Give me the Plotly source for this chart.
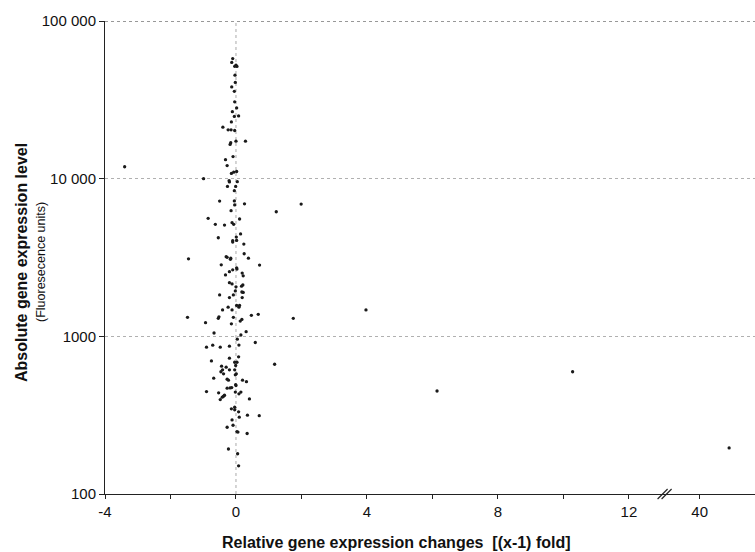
import plotly.graph_objects as go

# ---- data: relative change [(x-1) fold] and absolute expression (fluorescence units)
rel_change = [
    -0.10, -0.13, 0.00, 0.03, -0.04, -0.03, -0.02, -0.13, -0.05, -0.04,
    0.02, -0.11, -0.05, 0.08, -0.14, -0.40, -0.24, -0.15, -0.04,
    -0.16, -0.18, 0.00, 0.29, -0.09, -0.32, -0.27, -0.07, 0.02, -0.14,
    -0.99, -0.21, -0.20, 0.04, -0.01, -0.26, -0.05, -0.50, -0.05, 0.26,
    -0.04, -0.15, -0.85, 0.11,
    -0.63, -0.35, -0.12, -0.07, 0.14, -0.54, 0.01, -0.10, -0.10, 0.02,
    0.24, -1.45, -0.30, -0.27, -0.16, -0.17, 0.25, 0.38, 0.72, -0.45,
    0.02, 0.03, -0.10, -0.20, 0.19, 0.22, -0.32, -0.20, -0.12, 0.21,
    0.17, 0.00, -0.02, 0.22, 0.18, -0.50, -0.08, 0.19, -0.20,
    -0.24, 0.02, 0.11, 0.09, -0.41, -0.12, -1.48, -0.54, -0.52, -0.08,
    0.47, 0.68, -0.93, -0.14, 0.13, 0.18, -0.67, 0.31, 0.15, 0.04,
    0.59, -0.71, -0.90, -0.48, -0.20, 0.09, 0.08, -0.20, -0.75, -0.04,
    0.03, -0.44, -0.30, -0.41, -0.20, -0.01, -0.04, 1.18, -0.46, -0.38,
    -0.02, 0.01, -0.68, -0.27, -0.23, 0.20, 0.32, -0.01, -0.13, -0.18,
    -0.27, 0.00, -0.90, -0.53, -0.38, -0.35, -0.42, -0.48, -0.02, 0.09,
    0.15, 0.41, -0.04, -0.14, -0.04, 0.08, 0.10, 0.35, 0.71, -0.12,
    -0.09, -0.27, 0.03, 0.06, 0.34, -0.23, 0.05, 0.08,
    -3.40, 1.23, 1.99, 1.75, 3.97, 6.14, 10.28, 40.9,
]
abs_level = [
    57800, 54600, 52400, 51500, 51600, 45300, 40800, 38200, 35800, 30700,
    28100, 26600, 24800, 25000, 22900, 21200, 20400, 20400, 20200,
    16900, 16500, 17300, 17300, 13800, 13200, 12100, 11000, 11100, 10800,
    10000, 9710, 9530, 9570, 8930, 8930, 8390, 7210, 7230, 6930,
    6810, 6270, 5600, 5550,
    5130, 5080, 5260, 5130, 4460, 4220, 4260, 4040, 3960, 4060,
    3850, 3100, 3200, 3170, 3130, 3080, 3340, 3130, 2830, 2840,
    2720, 2670, 2640, 2570, 2520, 2420, 2450, 2190, 2150, 2120,
    2080, 2060, 1940, 1900, 1910, 1830, 1830, 1760, 1760,
    1530, 1570, 1570, 1530, 1470, 1470, 1320, 1300, 1330, 1320,
    1360, 1380, 1220, 1200, 1250, 1280, 1050, 1070, 1020, 960,
    914, 879, 854, 854, 866, 880, 741, 727, 698, 685,
    685, 647, 637, 613, 613, 653, 613, 665, 596, 578,
    570, 578, 543, 535, 527, 527, 516, 494, 473, 471,
    469, 487, 446, 438, 417, 423, 411, 397, 443, 432,
    443, 401, 355, 347, 342, 332, 307, 316, 314, 295,
    273, 265, 249, 247, 242, 193, 180, 151,
    11900, 6170, 6900, 1300, 1470, 450, 596, 196,
]

x_tick_vals = [-4, -2, 0, 2, 4, 6, 8, 10, 12, 40]
x_tick_text = ["-4", "", "0", "", "4", "", "8", "", "12", "40"]
y_tick_vals = [100, 1000, 10000, 100000]
y_tick_text = ["100", "1000", "10 000", "100 000"]

# broken x axis: values >= 40 are shifted to sit just after the break
BREAK_POS = 13.15
POS_OF_40 = 14.16


def to_axis(v):
    return v if v < 20 else v - 40 + POS_OF_40


xs = [to_axis(v) for v in rel_change]
tickpos = [to_axis(v) for v in x_tick_vals]

FONT = "Liberation Sans, Arial, sans-serif"

fig = go.Figure()
fig.add_trace(go.Scatter(
    x=xs, y=abs_level, mode="markers",
    marker=dict(symbol="circle", size=3.3, color="#1a1a1a"),
    hoverinfo="skip", showlegend=False,
))

# dotted reference line at zero change
fig.add_vline(x=0, line=dict(color="#aaaaaa", width=1, dash="dot"), layer="below")
# top dotted border
fig.add_hline(y=100000, line=dict(color="#333333", width=1, dash="dot"))

# axis break marks
for off in (-4, 0):
    fig.add_shape(type="line", xref="x", yref="paper",
                  xsizemode="pixel", ysizemode="pixel",
                  xanchor=BREAK_POS, yanchor=0,
                  x0=off - 5, x1=off + 5, y0=-5, y1=5,
                  line=dict(color="#222222", width=1.2))

fig.update_layout(
    width=755, height=552,
    margin=dict(l=105, r=0, t=21, b=58),
    paper_bgcolor="white", plot_bgcolor="white",
    font=dict(family=FONT, size=15, color="#111111"),
    xaxis=dict(
        range=[-4, 15.85], tickmode="array", tickvals=tickpos, ticktext=x_tick_text,
        showgrid=False, zeroline=False, showline=True, linecolor="#222222", linewidth=1,
        ticks="outside", ticklen=4, tickcolor="#222222",
        tickfont=dict(size=15, family=FONT),
    ),
    yaxis=dict(
        type="log", range=[2, 5], tickmode="array", tickvals=y_tick_vals, ticktext=y_tick_text,
        showgrid=True, gridcolor="#b0b0b0", griddash="dot", gridwidth=1,
        zeroline=False, showline=True, linecolor="#222222", linewidth=1,
        ticks="outside", ticklen=5, tickcolor="#222222",
        tickfont=dict(size=15, family=FONT),
    ),
    annotations=[
        dict(text="<b>Relative gene expression changes  [(x-1) fold]</b>",
             xref="paper", yref="paper", x=(396 - 105) / 650, y=-(542 - 494) / 473,
             xanchor="center", yanchor="middle", showarrow=False,
             font=dict(size=16, family=FONT)),
        dict(text="<b>Absolute gene expression level</b>",
             xref="paper", yref="paper", x=-(105 - 21) / 650, y=(494 - 263) / 473,
             xanchor="center", yanchor="middle", textangle=-90, showarrow=False,
             font=dict(size=16, family=FONT)),
        dict(text="(Fluoresecence units)",
             xref="paper", yref="paper", x=-(105 - 41) / 650, y=(494 - 262) / 473,
             xanchor="center", yanchor="middle", textangle=-90, showarrow=False,
             font=dict(size=12.5, family=FONT)),
    ],
)

fig.write_html("out.html", config={"displayModeBar": False})

# remove the browser's default page margin so the figure fills the window
with open("out.html", encoding="utf-8") as f:
    html = f.read()
html = html.replace("<body>", '<body style="margin:0;padding:0;">', 1)
html = html.replace("<head>", "<head><style>html,body{margin:0;padding:0;overflow:hidden;}</style>", 1)
with open("out.html", "w", encoding="utf-8") as f:
    f.write(html)
